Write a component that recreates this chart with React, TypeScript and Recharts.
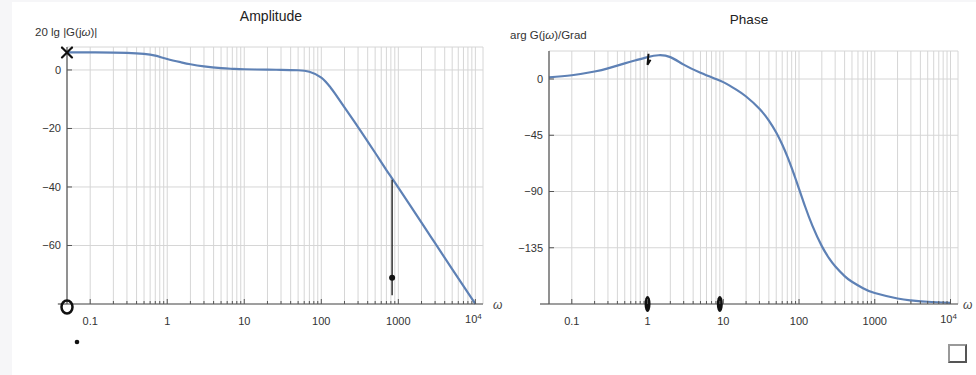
import React from 'react';
import { ComposedChart, Line, Scatter, XAxis, YAxis, CartesianGrid, ReferenceLine } from 'recharts';

// ---- axis tick values ----
const gridMultipliers = [1, 2, 3, 4, 5, 6, 7, 8, 9];
const gridDecades = [0.1, 1, 10, 100, 1000];
const decadeTicks = [0.1, 1, 10, 100, 1000, 10000];
const decadeLabels = ['0.1', '1', '10', '100', '1000', '10^4'];
const ampTicks = [-60, -40, -20, 0];
const phaseTicks = [-135, -90, -45, 0];

// ---- amplitude (dB) ----
const ampOmega = [0.05, 0.1, 0.2, 0.3, 0.5, 0.7, 1, 1.5, 2, 3, 5, 7, 10, 20, 30, 50, 70, 100, 130, 150, 200, 300, 500, 700, 1000, 2000, 3000, 5000, 10000];
const ampDb = [6.0, 6.0, 5.95, 5.85, 5.5, 4.9, 3.75, 2.65, 1.95, 1.2, 0.6, 0.4, 0.25, 0.1, 0.05, -0.1, -0.6, -2.6, -5.8, -8, -12.8, -19.5, -28.3, -34.2, -40.2, -52.2, -59.2, -68.1, -80];

// ---- phase (degrees) ----
const phaseOmega = [0.05, 0.1, 0.2, 0.3, 0.5, 0.7, 1, 1.4, 2, 3, 5, 8, 10, 12, 15, 20, 30, 40, 50, 60, 70, 80, 90, 100, 120, 150, 200, 250, 300, 400, 500, 700, 1000, 2000, 3000, 5000, 10000];
const phaseDeg = [1.3, 3, 6, 8.5, 12.5, 15, 17.5, 19, 17.5, 11.5, 5, 0, -2.5, -5.1, -8.7, -14, -23.8, -33.3, -42.8, -52.4, -61.9, -71.1, -79.8, -87.9, -101.8, -117.3, -133.7, -143.5, -149.8, -157.7, -162.2, -167.4, -171.2, -175.6, -177.1, -178.2, -179.1];

// ---- hand-drawn marks on the picture ----
const ampMarkOmega = [0.05, 0.05, 830];
const ampMarkValue = [6, -80, -71];
const ampMarkKind = ['cross', 'ring', 'dot'];
const ampStrokeOmega = [830, 830];
const ampStrokeValue = [-37.5, -77];
const phaseMarkOmega = [1, 9, 1.03];
const phaseMarkValue = [-180, -180, 17];
const phaseMarkKind = ['blob', 'blob', 'tick'];

// the x axis line starts a little left of the vertical axis
const axisStubOmega = [0.038, 0.05];

const gridTicks = [...gridDecades.flatMap((d) => gridMultipliers.map((m) => d * m)), 10000];
const ampData = ampOmega.map((w, i) => ({ w, v: ampDb[i] }));
const phaseData = phaseOmega.map((w, i) => ({ w, v: phaseDeg[i] }));
const ampMarks = ampMarkOmega.map((w, i) => ({ w, v: ampMarkValue[i], kind: ampMarkKind[i] }));
const phaseMarks = phaseMarkOmega.map((w, i) => ({ w, v: phaseMarkValue[i], kind: phaseMarkKind[i] }));

const FONT = '"Liberation Sans", Arial, Helvetica, sans-serif';
const AXIS = '#555555';
const GRID = '#d6d6d6';
const TEXT = '#333333';
const CURVE = '#5e81b5';

const isDecade = (v: number) => decadeTicks.findIndex((d) => Math.abs(v - d) / d < 1e-6);

const XTick = (props: any) => {
  const { x, y, payload } = props;
  const idx = isDecade(payload.value);
  const major = idx >= 0;
  const label = major ? decadeLabels[idx] : null;
  return (
    <g>
      <line x1={x} y1={y} x2={x} y2={y - (major ? 5 : 3)} stroke={AXIS} strokeWidth={1} />
      {label && label !== '10^4' && (
        <text x={x} y={y + 17} dy="0.35em" textAnchor="middle" fontSize={11} fill={TEXT} fontFamily={FONT}>
          {label}
        </text>
      )}
      {label === '10^4' && (
        <text x={x - 2} y={y + 15} dy="0.35em" textAnchor="middle" fontSize={11} fill={TEXT} fontFamily={FONT}>
          10
          <tspan fontSize={8} dy={-4}>4</tspan>
        </text>
      )}
    </g>
  );
};

const YTick = (props: any) => {
  const { x, y, payload } = props;
  const v = payload.value;
  const s = v < 0 ? '\u2212' + Math.abs(v) : String(v);
  return (
    <g>
      <line x1={x} y1={y} x2={x + 5} y2={y} stroke={AXIS} strokeWidth={1} />
      <text x={x - 6} y={y} dy="0.35em" textAnchor="end" fontSize={11} fill={TEXT} fontFamily={FONT}>
        {s}
      </text>
    </g>
  );
};

const MarkShape = (props: any) => {
  const { cx, cy, payload } = props;
  if (cx == null || cy == null) return null;
  switch (payload.kind) {
    case 'cross':
      return (
        <g stroke="#111" strokeWidth={2.2} strokeLinecap="round">
          <line x1={cx - 5} y1={cy - 5} x2={cx + 5} y2={cy + 5} />
          <line x1={cx - 5} y1={cy + 5} x2={cx + 5} y2={cy - 5} />
        </g>
      );
    case 'ring':
      return (
        <g>
          <ellipse cx={cx} cy={cy + 3} rx={5.5} ry={6.5} fill="none" stroke="#111" strokeWidth={2.5} />
          <circle cx={cx + 10} cy={cy + 38} r={2.3} fill="#111" />
        </g>
      );
    case 'dot':
      return <circle cx={cx} cy={cy} r={3} fill="#111" />;
    case 'blob':
      return <ellipse cx={cx} cy={cy} rx={3} ry={8} fill="#111" />;
    case 'tick':
      return <path d={`M${cx} ${cy - 4} L${cx - 1} ${cy + 7} L${cx + 2} ${cy + 2}`} stroke="#111" strokeWidth={2} fill="none" />;
    default:
      return null;
  }
};

const xDomain: [number, number] = [0.05, 12560];

const textStyle = (extra: any): React.CSSProperties => ({
  position: 'absolute',
  fontFamily: FONT,
  color: TEXT,
  whiteSpace: 'nowrap',
  lineHeight: 1,
  ...extra,
});

export default function App() {
  return (
    <div style={{ position: 'absolute', left: 0, top: 0, width: 976, height: 375, background: '#ffffff', overflow: 'hidden' }}>
      <div style={{ position: 'absolute', left: 0, top: 0, width: 12, height: 375, background: '#f6f6f8' }} />
      <div style={{ position: 'absolute', left: 0, top: 0, width: 976, height: 2, background: '#f6f6f8' }} />

      {/* Amplitude chart */}
      <div style={{ position: 'absolute', left: 0, top: 0 }}>
        <ComposedChart width={490} height={375} data={ampData} margin={{ top: 47, right: 7, bottom: 41, left: 37 }} style={{ overflow: 'visible' }}>
          <CartesianGrid stroke={GRID} strokeWidth={1} />
          <XAxis
            dataKey="w"
            type="number"
            scale="log"
            domain={xDomain}
            ticks={gridTicks}
            interval={0}
            tick={<XTick />}
            tickLine={false}
            tickSize={0}
            tickMargin={0}
            height={30}
            axisLine={{ stroke: AXIS, strokeWidth: 1.2 }}
          />
          <YAxis
            type="number"
            domain={[-80, 7.85]}
            ticks={ampTicks}
            interval={0}
            tick={<YTick />}
            tickLine={false}
            tickSize={0}
            tickMargin={0}
            width={30}
            axisLine={{ stroke: AXIS, strokeWidth: 1.2 }}
          />
          <ReferenceLine
            segment={[
              { x: axisStubOmega[0], y: -80 },
              { x: axisStubOmega[1], y: -80 },
            ]}
            ifOverflow="visible"
            stroke={AXIS}
            strokeWidth={1.2}
          />
          <Line dataKey="v" type="natural" stroke={CURVE} strokeWidth={2.2} dot={false} activeDot={false} isAnimationActive={false} />
          <ReferenceLine
            segment={[
              { x: ampStrokeOmega[0], y: ampStrokeValue[0] },
              { x: ampStrokeOmega[1], y: ampStrokeValue[1] },
            ]}
            stroke="#111"
            strokeWidth={1.3}
          />
          <Scatter data={ampMarks} dataKey="v" shape={<MarkShape />} isAnimationActive={false} />
        </ComposedChart>
      </div>

      {/* Phase chart */}
      <div style={{ position: 'absolute', left: 490, top: 0 }}>
        <ComposedChart width={486} height={375} data={phaseData} margin={{ top: 51, right: 18, bottom: 41, left: 29 }}>
          <CartesianGrid stroke={GRID} strokeWidth={1} />
          <XAxis
            dataKey="w"
            type="number"
            scale="log"
            domain={xDomain}
            ticks={gridTicks}
            interval={0}
            tick={<XTick />}
            tickLine={false}
            tickSize={0}
            tickMargin={0}
            height={30}
            axisLine={{ stroke: AXIS, strokeWidth: 1.2 }}
          />
          <YAxis
            type="number"
            domain={[-180, 22.4]}
            ticks={phaseTicks}
            interval={0}
            tick={<YTick />}
            tickLine={false}
            tickSize={0}
            tickMargin={0}
            width={30}
            axisLine={{ stroke: AXIS, strokeWidth: 1.2 }}
          />
          <ReferenceLine
            segment={[
              { x: axisStubOmega[0], y: -180 },
              { x: axisStubOmega[1], y: -180 },
            ]}
            ifOverflow="visible"
            stroke={AXIS}
            strokeWidth={1.2}
          />
          <Line dataKey="v" type="natural" stroke={CURVE} strokeWidth={2.2} dot={false} activeDot={false} isAnimationActive={false} />
          <Scatter data={phaseMarks} dataKey="v" shape={<MarkShape />} isAnimationActive={false} />
        </ComposedChart>
      </div>

      {/* titles and axis labels */}
      <div style={textStyle({ left: 271, top: 16, fontSize: 14, color: '#222', transform: 'translate(-50%, -50%)' })}>Amplitude</div>
      <div style={textStyle({ left: 35, top: 33, fontSize: 11.5, transform: 'translateY(-50%)' })}>20 lg |G(j<i>ω</i>)|</div>
      <div style={textStyle({ left: 749, top: 20, fontSize: 13.5, color: '#222', transform: 'translate(-50%, -50%)' })}>Phase</div>
      <div style={textStyle({ left: 510, top: 36, fontSize: 11.5, transform: 'translateY(-50%)' })}>arg G(j<i>ω</i>)/Grad</div>
      <div style={textStyle({ left: 493, top: 305, fontSize: 12, fontStyle: 'italic', color: '#444', transform: 'translateY(-50%)' })}>ω</div>
      <div style={textStyle({ left: 963, top: 305, fontSize: 12, fontStyle: 'italic', color: '#444', transform: 'translateY(-50%)' })}>ω</div>

      {/* small checkbox in the corner */}
      <div style={{ position: 'absolute', left: 948, top: 344, width: 15, height: 15, border: '2px solid #555', borderLeftColor: '#999', borderTopColor: '#999', background: '#fff' }} />
    </div>
  );
}
